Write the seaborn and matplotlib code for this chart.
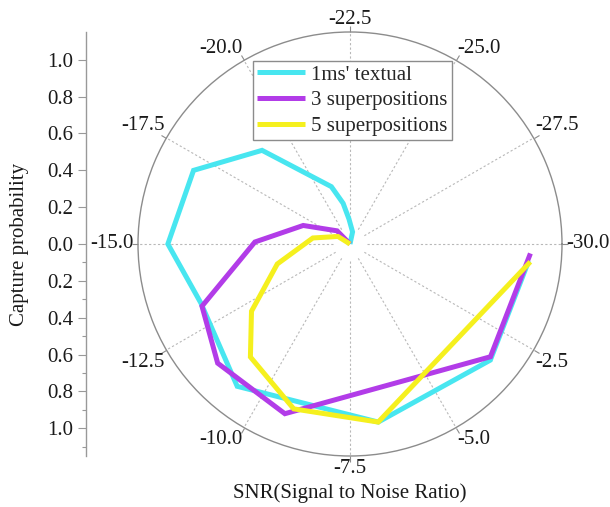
import numpy as np
import matplotlib
matplotlib.use("Agg")
import matplotlib.pyplot as plt
import seaborn as sns

# ---- data (SNR in dB -> angle, capture probability -> radius) ----
snr_ticks = [-30.0, -27.5, -25.0, -22.5, -20.0, -17.5, -15.0, -12.5, -10.0, -7.5, -5.0, -2.5]
snr_tick_labels = ["-30.0", "-27.5", "-25.0", "-22.5", "-20.0", "-17.5",
                   "-15.0", "-12.5", "-10.0", "-7.5", "-5.0", "-2.5"]

series_names = ["1ms' textual", "3 superpositions", "5 superpositions"]

cyan_snr = [-30.0, -25.0, -23.5, -22.3, -21.7, -21.0, -18.9, -17.1, -15.0, -13.2, -10.7, -6.75, -3.3, -0.45]
cyan_p = [0.0, 0.0, 0.067, 0.136, 0.224, 0.327, 0.697, 0.938, 0.988, 0.87, 0.985, 0.978, 0.988, 0.974]

purple_snr = [-30.0, -22.0, -18.8, -16.8, -15.1, -13.1, -11.5, -9.25, -3.23, -0.25]
purple_p = [0.0, 0.0, 0.10, 0.273, 0.516, 0.871, 0.966, 0.986, 0.977, 0.98]

yellow_snr = [-30.0, -21.0, -17.67, -15.77, -13.72, -12.14, -10.95, -9.07, -6.75, -0.47]
yellow_p = [0.0, 0.0, 0.077, 0.204, 0.409, 0.647, 0.817, 0.945, 0.978, 0.983]

left_major = [1.0, 0.8, 0.6, 0.4, 0.2, 0.0, -0.2, -0.4, -0.6, -0.8, -1.0]
left_minor = [-0.1, -0.3, -0.5, -0.7, -0.9, -1.1]

colors = ["#48E6F0", "#B23CE8", "#F5F01E"]

# ---- style ----
sns.set_style("white")
plt.rcParams["font.family"] = ["Liberation Serif", "DejaVu Serif"]
plt.rcParams["font.size"] = 15

R_MAX = 1.15


def to_theta(s):
    return np.deg2rad((np.asarray(s, dtype=float) + 30.0) * 12.0)


fig = plt.figure(figsize=(6.10, 5.07), dpi=100)
ax = fig.add_axes([138 / 610, 51 / 507, 424 / 610, 424 / 507], projection="polar")
ax.set_theta_zero_location("E")
ax.set_theta_direction(1)

for s, p, c, name in zip([cyan_snr, purple_snr, yellow_snr],
                         [cyan_p, purple_p, yellow_p], colors, series_names):
    sns.lineplot(x=to_theta(s), y=p, ax=ax, sort=False, estimator=None,
                 color=c, linewidth=3.6, label=name,
                 solid_joinstyle="miter", solid_capstyle="butt")

ax.set_ylim(0, R_MAX)
ax.set_yticks([])
ax.set_xticks(to_theta(snr_ticks))
ax.set_xticklabels([])
ax.grid(False)
ax.set_xlabel("")
ax.set_ylabel("")
ax.vlines(to_theta(snr_ticks), 0.09, R_MAX, colors="#b8b8b8",
          linestyles=(0, (2, 2)), linewidth=0.8, zorder=0)
ax.spines["polar"].set_color("#8c8c8c")
ax.spines["polar"].set_linewidth(1.0)
ax.tick_params(axis="x", bottom=False, top=True, direction="out", length=4,
               width=0.8, color="#8c8c8c")

# angular labels
for val, lab in zip(snr_ticks, snr_tick_labels):
    th = float(to_theta(val))
    c, s = np.cos(th), np.sin(th)
    if c > 0.1:
        ha = "left"
    elif c < -0.1:
        ha = "right"
    else:
        ha = "center"
    if s > 0.1:
        va = "bottom"
    elif s < -0.1:
        va = "top"
    else:
        va = "center"
    if va == "center":
        dx, dy = 3.0 * np.sign(c), 0.0
    elif ha == "center":
        dx, dy = 0.0, 2.5 * np.sign(s)
    else:
        dx, dy = 1.0 * np.sign(c), 2.0 * np.sign(s)
    ax.annotate(lab, xy=(th, R_MAX), xycoords="data", xytext=(dx, dy),
                textcoords="offset points", ha=ha, va=va, fontsize=15,
                color="#1a1a1a", annotation_clip=False)

leg = ax.legend(loc="upper left", bbox_to_anchor=(0.271, 0.932),
                bbox_transform=ax.transAxes, borderaxespad=0, frameon=True,
                fancybox=False, framealpha=1, edgecolor="#8c8c8c",
                handlelength=2.3, handletextpad=0.3, labelspacing=0.3,
                borderpad=0.2, fontsize=15)
leg.get_frame().set_linewidth(1.0)
for line in leg.get_lines():
    line.set_linewidth(3.6)

# left vertical probability axis
lax = fig.add_axes([86 / 610, 51 / 507, 0.0005, 424 / 507])
lax.patch.set_visible(False)
lax.set_ylim(-R_MAX, R_MAX)
for sp in ["top", "right", "bottom"]:
    lax.spines[sp].set_visible(False)
lax.spines["left"].set_color("#999999")
lax.spines["left"].set_linewidth(1.0)
lax.set_xticks([])
lax.set_yticks(left_major)
lax.set_yticklabels([f"{abs(v):.1f}" for v in left_major])
lax.set_yticks(left_minor, minor=True)
lax.tick_params(axis="y", which="major", left=True, direction="out", length=6,
                width=0.8, color="#999999", pad=3, labelsize=15,
                labelcolor="#1a1a1a")
lax.tick_params(axis="y", which="minor", left=True, direction="out", length=3,
                width=0.8, color="#999999")

fig.text(20 / 610, 1 - 244 / 507, "Capture probability", rotation=90,
         ha="center", va="center", fontsize=15, color="#1a1a1a")
fig.text(350 / 610, 1 - 493 / 507, "SNR(Signal to Noise Ratio)",
         ha="center", va="center", fontsize=15, color="#1a1a1a")

fig.savefig("out.png", dpi=100)
